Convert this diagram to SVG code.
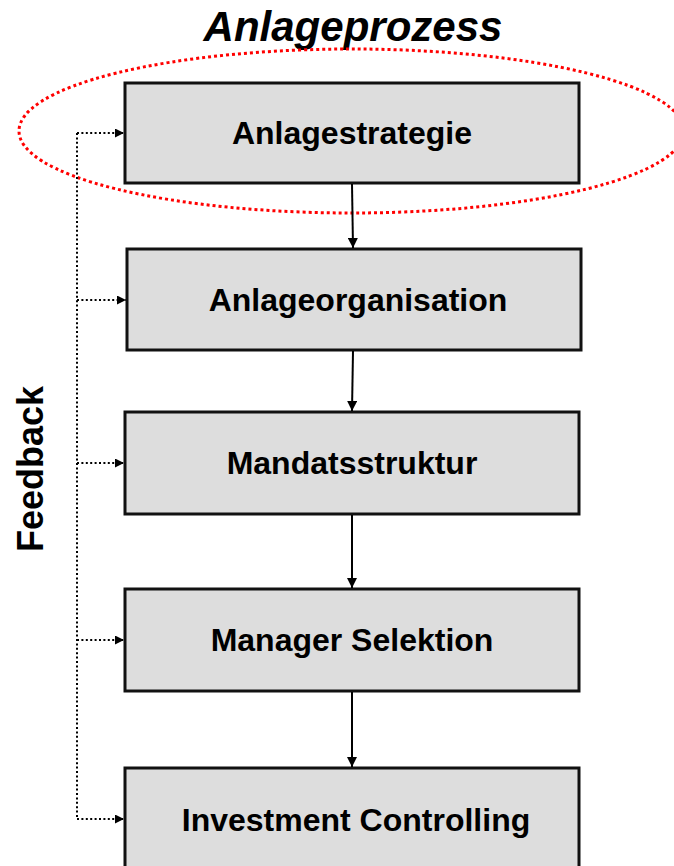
<svg xmlns="http://www.w3.org/2000/svg" width="674" height="866" viewBox="0 0 674 866">
  <style>
    .box { fill: #dddddd; stroke: #111111; stroke-width: 3; }
    .label { font-family: "Liberation Sans", Arial, sans-serif; font-weight: bold; font-size: 32px; fill: #000000; text-anchor: middle; }
    .title { font-family: "Liberation Sans", Arial, sans-serif; font-weight: bold; font-style: italic; font-size: 42px; fill: #000000; text-anchor: middle; }
    .side { font-family: "Liberation Sans", Arial, sans-serif; font-weight: bold; font-size: 36px; fill: #000000; text-anchor: middle; }
    .flow { stroke: #000000; stroke-width: 2; fill: none; }
    .fb { stroke: #000000; stroke-width: 2; stroke-dasharray: 2 2.4; fill: none; }
    .focus { stroke: #ff0000; stroke-width: 3; stroke-dasharray: 3 3; fill: none; }
  </style>
  <defs>
    <marker id="arrow" viewBox="0 0 10 10" refX="10" refY="5" markerWidth="10" markerHeight="9" markerUnits="userSpaceOnUse" orient="auto">
      <path d="M0,0 L10,5 L0,10 Z" fill="#000000"/>
    </marker>
    <marker id="arrow-lg" viewBox="0 0 10 10" refX="10" refY="5" markerWidth="11" markerHeight="10" markerUnits="userSpaceOnUse" orient="auto">
      <path d="M0,0 L10,5 L0,10 Z" fill="#000000"/>
    </marker>
  </defs>

  <!-- heading -->
  <text class="title" x="353" y="41">Anlageprozess</text>

  <!-- side caption for the return loop -->
  <text class="side" transform="translate(43,469) rotate(-90)">Feedback</text>

  <!-- process steps -->
  <g id="anlagestrategie">
    <rect class="box" x="125" y="83" width="454" height="100"/>
    <text class="label" x="352" y="144">Anlagestrategie</text>
  </g>
  <g id="anlageorganisation">
    <rect class="box" x="127" y="249" width="454" height="101"/>
    <text class="label" x="358" y="311">Anlageorganisation</text>
  </g>
  <g id="mandatsstruktur">
    <rect class="box" x="125" y="412" width="454" height="102"/>
    <text class="label" x="352" y="474">Mandatsstruktur</text>
  </g>
  <g id="manager-selektion">
    <rect class="box" x="125" y="589" width="454" height="102"/>
    <text class="label" x="352" y="651">Manager Selektion</text>
  </g>
  <g id="investment-controlling">
    <rect class="box" x="125" y="768" width="454" height="102"/>
    <text class="label" x="356" y="831">Investment Controlling</text>
  </g>

  <!-- highlight around the first step -->
  <ellipse id="focus-ring" class="focus" cx="351.5" cy="131" rx="332.5" ry="82"/>

  <!-- connectors -->
  <g id="connectors">
    <line class="flow" x1="352" y1="184" x2="353" y2="248" marker-end="url(#arrow-lg)"/>
    <line class="flow" x1="353" y1="351" x2="352" y2="411" marker-end="url(#arrow-lg)"/>
    <line class="flow" x1="352" y1="515" x2="352" y2="588" marker-end="url(#arrow-lg)"/>
    <line class="flow" x1="352" y1="692" x2="352" y2="767" marker-end="url(#arrow-lg)"/>

    <!-- feedback loop -->
    <line class="fb" x1="77" y1="133" x2="77" y2="819"/>
    <line class="fb" x1="77" y1="133" x2="124" y2="133" marker-end="url(#arrow)"/>
    <line class="fb" x1="77" y1="300" x2="126" y2="300" marker-end="url(#arrow)"/>
    <line class="fb" x1="77" y1="463" x2="124" y2="463" marker-end="url(#arrow)"/>
    <line class="fb" x1="77" y1="640" x2="124" y2="640" marker-end="url(#arrow)"/>
    <line class="fb" x1="77" y1="819" x2="124" y2="819" marker-end="url(#arrow)"/>
  </g>
</svg>
